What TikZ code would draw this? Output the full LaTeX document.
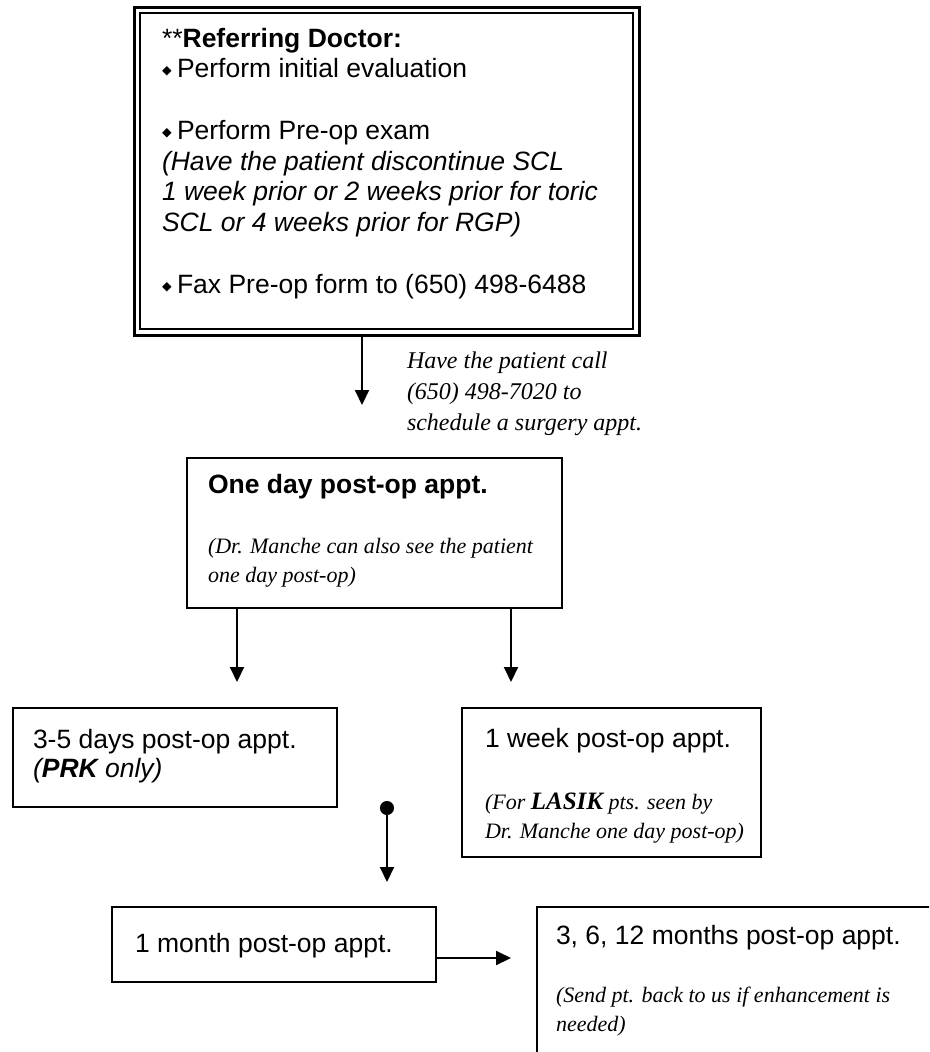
\documentclass[tikz,border=0pt]{standalone}
\usepackage{fontspec}
\setmainfont{Liberation Serif}
\setsansfont{Liberation Sans}
\newfontfamily\djv{DejaVu Sans}
\usetikzlibrary{arrows.meta}
\newcommand\dia{\makebox[15pt][l]{\raisebox{3pt}{\djv\fontsize{12.5}{12.5}\selectfont ◆}}}
\begin{document}
\begin{tikzpicture}[x=1pt,y=-1pt,
 box/.style={draw, line width=1.5pt, inner sep=0pt, outer sep=0pt, anchor=north west},
 arr/.style={line width=2pt, -{Triangle[length=15pt,width=14pt]}},
 txt/.style={inner sep=0pt, outer sep=0pt, anchor=north west, align=left},
 one/.style={inner sep=0pt, outer sep=0pt, anchor=base west},
 sans/.style={font=\sffamily\fontsize{26.5}{30.75}\selectfont},
 ser/.style={font=\itshape\fontsize{22}{29.5}\selectfont},
]
\path[use as bounding box] (0,0) rectangle (929,1052);
\clip (0,0) rectangle (929,1052);
\fill[white] (0,0) rectangle (929,1052);

% top double box
\node[box, line width=3pt, minimum width=505pt, minimum height=328pt] (top) at (134,7) {};
\node[box, line width=1.3pt, minimum width=493pt, minimum height=316pt] (topin) at (140,13) {};
\node[txt, sans] (toptxt) at (162,23) {\rule{0pt}{24pt}**\textbf{Referring Doctor:}\\
\dia Perform initial evaluation\\
\mbox{}\\
\dia Perform Pre-op exam\\
\textit{(Have the patient discontinue SCL}\\
\textit{1 week prior or 2 weeks prior for toric}\\
\textit{SCL or 4 weeks prior for RGP)}\\
\mbox{}\\
\dia Fax Pre-op form to (650) 498-6488};

% label
\node[txt, font=\itshape\fontsize{24}{31}\selectfont] (lbl) at (407,346) {\rule{0pt}{22pt}Have the patient call\\(650) 498-7020 to\\schedule a surgery appt.};

% one day box
\node[box, minimum width=375pt, minimum height=150pt] (od) at (187,458) {};
\node[one, font=\sffamily\bfseries\fontsize{26.5}{30}\selectfont] (odt) at (208,493) {One day post-op appt.};
\node[txt, ser] (odi) at (208,533) {\rule{0pt}{20pt}(Dr. Manche can also see the patient\\one day post-op)};

% 3-5 days box
\node[box, minimum width=324pt, minimum height=99pt] (d35) at (13,708) {};
\node[txt, font=\sffamily\fontsize{26.5}{29}\selectfont] (d35t) at (33,724) {\rule{0pt}{24pt}3-5 days post-op appt.\\\textit{(\textbf{PRK} only)}};

% 1 week box
\node[box, minimum width=299pt, minimum height=149pt] (wk) at (462,708) {};
\node[one, sans] (wkt) at (485,747) {1 week post-op appt.};
\node[txt, ser] (wki) at (485,789) {\rule{0pt}{20pt}(For {\bfseries\fontsize{25}{29.5}\selectfont LASIK} pts. seen by\\Dr. Manche one day post-op)};

% 1 month box
\node[box, minimum width=324pt, minimum height=75pt] (mo) at (112,907) {};
\node[one, sans] (mot) at (135,952) {1 month post-op appt.};

% 3,6,12 months box (open to the right and bottom)
\node[box, minimum width=500pt, minimum height=300pt] (s12) at (537,907) {};
\node[one, sans] (s12t) at (556,944) {3, 6, 12 months post-op appt.};
\node[txt, ser] (s12i) at (556,982) {\rule{0pt}{20pt}(Send pt. back to us if enhancement is\\needed)};

% connectors
\coordinate (c1) at (362,0);
\draw[arr, shorten >=53pt] (top.south -| c1) -- (od.north -| c1);
\coordinate (c2) at (237,0);
\draw[arr, shorten >=26pt] (od.south -| c2) -- (d35.north -| c2);
\coordinate (c3) at (511,0);
\draw[arr, shorten >=26pt] (od.south -| c3) -- (wk.north -| c3);
\coordinate (dotc) at (387,801);
\draw[line width=2pt, {Circle[length=14pt]}-{Triangle[length=15pt,width=14pt]}, shorten >=25pt] (dotc) -- (mo.north -| dotc);
\coordinate (c4) at (0,958);
\draw[arr, shorten >=26pt] (mo.east |- c4) -- (s12.west |- c4);
\end{tikzpicture}
\end{document}
